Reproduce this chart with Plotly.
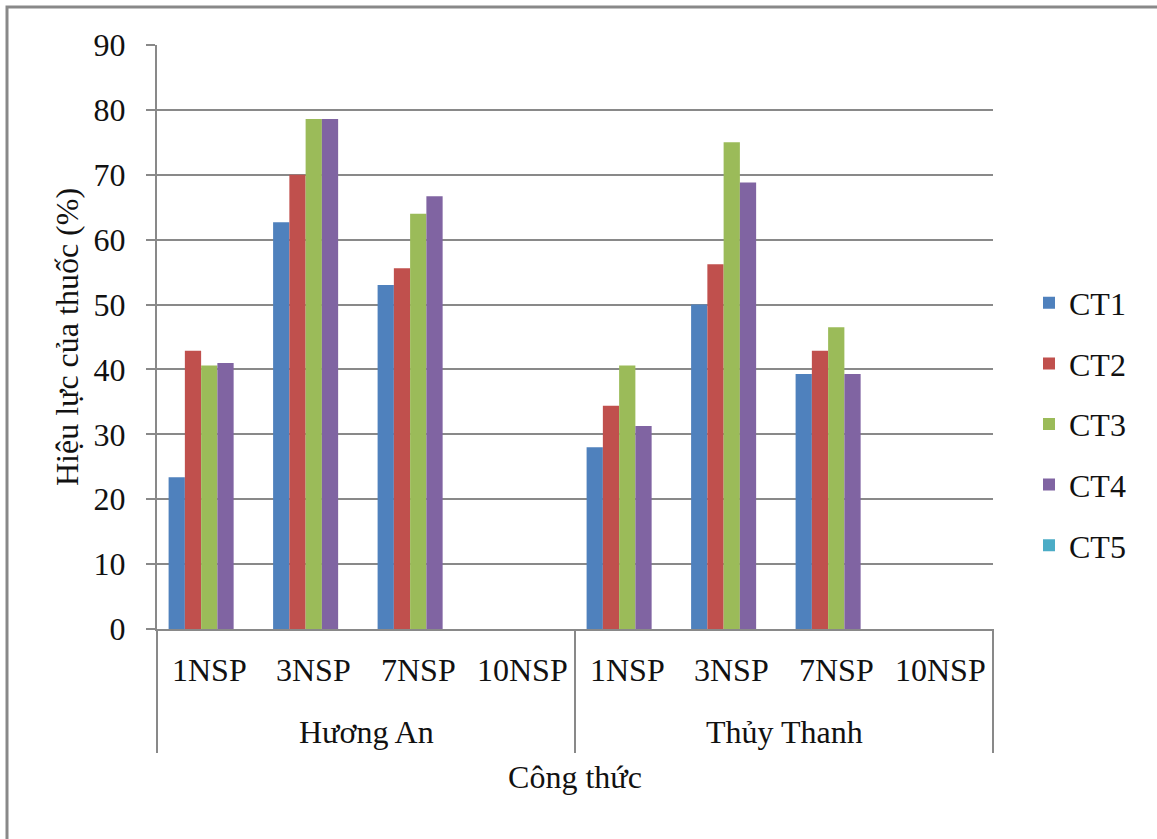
import plotly.graph_objects as go

# Sites and sampling times (days after spraying)
sites = ["Hương An", "Thủy Thanh"]
times = ["1NSP", "3NSP", "7NSP", "10NSP"]

# Efficacy (%) per treatment, ordered site by site, time by time
series_names = ["CT1", "CT2", "CT3", "CT4", "CT5"]
ct1 = [23.4, 62.7, 53.0, 0, 28.0, 50.0, 39.3, 0]
ct2 = [42.9, 70.0, 55.6, 0, 34.4, 56.2, 42.9, 0]
ct3 = [40.6, 78.6, 64.0, 0, 40.6, 75.0, 46.5, 0]
ct4 = [41.0, 78.6, 66.7, 0, 31.3, 68.8, 39.3, 0]
ct5 = [0, 0, 0, 0, 0, 0, 0, 0]
series_values = [ct1, ct2, ct3, ct4, ct5]
colors = ["#4F81BD", "#C0504D", "#9BBB59", "#8064A2", "#4BACC6"]

x_site = [s for s in sites for _ in times]
x_time = [t for _ in sites for t in times]

FONT = "Liberation Serif"
INK = "#111111"
GRAY = "#898989"
W, H = 1157, 839
ML, MR, MT, MB = 157, 164, 45, 210
PW, PH = W - ML - MR, H - MT - MB


def px_x(p):
    return (p - ML) / PW


def px_y(p):
    return (H - MB - p) / PH


fig = go.Figure()
for name, vals, col in zip(series_names, series_values, colors):
    fig.add_trace(go.Bar(
        name=name, x=[x_site, x_time], y=vals,
        marker=dict(color=col, line=dict(width=0)),
        legendgroup=name,
    ))

# two-level category labels with Excel-style dividers
n_cat = len(x_time)
annotations = []
for i, t in enumerate(x_time):
    annotations.append(dict(
        text=t, xref="paper", yref="paper",
        x=(i + 0.5) / n_cat, y=px_y(670),
        xanchor="center", yanchor="middle", showarrow=False,
        font=dict(family=FONT, size=32, color=INK),
    ))
n_site = len(sites)
for j, s in enumerate(sites):
    annotations.append(dict(
        text=s, xref="paper", yref="paper",
        x=(j + 0.5) / n_site, y=px_y(732),
        xanchor="center", yanchor="middle", showarrow=False,
        font=dict(family=FONT, size=32, color=INK),
    ))

shapes = []
for j in range(n_site + 1):
    shapes.append(dict(
        type="line", xref="paper", yref="paper",
        x0=j / n_site, x1=j / n_site, y0=0, y1=px_y(753),
        line=dict(color=GRAY, width=2),
    ))
# outer frame of the chart
shapes.append(dict(
    type="rect", xref="paper", yref="paper",
    x0=px_x(7), x1=px_x(1200), y0=px_y(900), y1=px_y(7),
    line=dict(color=GRAY, width=3), layer="below",
))

fig.update_layout(
    width=W, height=H,
    margin=dict(l=ML, r=MR, t=MT, b=MB, autoexpand=False),
    paper_bgcolor="white", plot_bgcolor="white",
    font=dict(family=FONT, size=32, color=INK),
    barmode="group", bargap=0.222, bargroupgap=0,
    showlegend=True,
    legend=dict(
        xref="container", yref="container",
        x=1029 / W, xanchor="left",
        y=1 - 424 / H, yanchor="middle",
        font=dict(family=FONT, size=32, color=INK),
        tracegroupgap=16, traceorder="grouped",
        bgcolor="rgba(0,0,0,0)",
    ),
    annotations=annotations,
    shapes=shapes,
    xaxis=dict(
        type="multicategory",
        showline=True, linecolor=GRAY, linewidth=2,
        showdividers=False, showticklabels=False,
        ticks="", showgrid=False,
        title=dict(text="Công thức", standoff=136,
                   font=dict(family=FONT, size=32, color=INK)),
    ),
    yaxis=dict(
        range=[0, 90], dtick=10, tick0=0,
        showgrid=True, gridcolor=GRAY, gridwidth=2,
        showline=True, linecolor=GRAY, linewidth=2,
        ticks="outside", ticklen=9, tickcolor=GRAY, tickwidth=2,
        ticklabelstandoff=14,
        zeroline=False,
        tickfont=dict(family=FONT, size=32, color=INK),
        title=dict(text="Hiệu lực của thuốc (%)", standoff=5,
                   font=dict(family=FONT, size=32, color=INK)),
    ),
)

fig.write_html("out.html")
